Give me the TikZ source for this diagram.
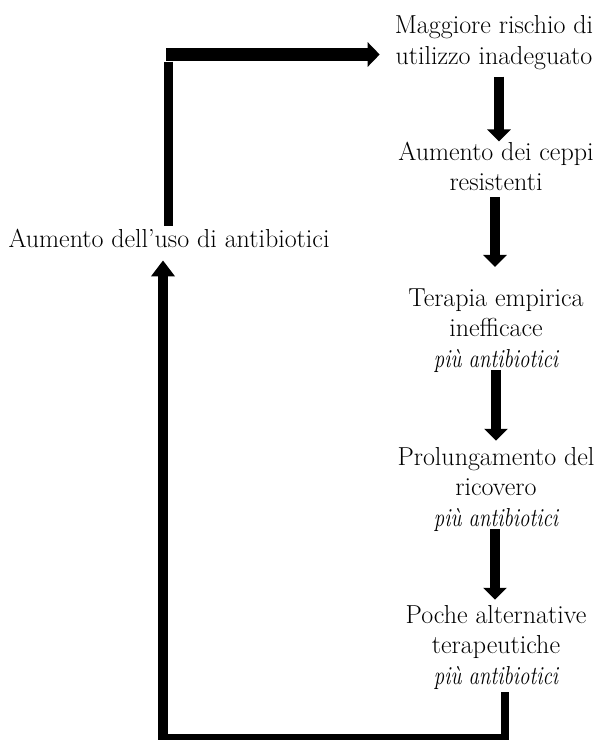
\documentclass[tikz,border=0pt]{standalone}
\usepackage{fontspec}
\usepackage{graphicx}
\usetikzlibrary{arrows.meta}
\newcommand{\piu}{\scalebox{0.8}[1]{\itshape più antibiotici}}
\begin{document}
\begin{tikzpicture}[x=1pt,y=-1pt,
  lbl/.style={inner sep=0pt, align=center, anchor=base, font=\fontsize{26}{30.5}\selectfont},
  arr/.style={line width=9.5pt, -{Triangle[width=23pt,length=12pt]}},
  thickbar/.style={line width=#1}]
\useasboundingbox (0,0) rectangle (596,740);
% texts (anchor = baseline of the last line)
\node[lbl] (n0) at (169,247) {Aumento dell’uso di antibiotici};
\node[lbl] (n1) at (494,64) {Maggiore rischio di\\utilizzo inadeguato};
\node[lbl] (n2) at (496,190.5) {Aumento dei ceppi\\resistenti};
\node[lbl] (n3) at (496,367) {Terapia empirica\\inefficace\\\piu};
\node[lbl] (n4) at (496,526) {Prolungamento del\\ricovero\\\piu};
\node[lbl] (n5) at (496,684) {Poche alternative\\terapeutiche\\\piu};
% corners
\coordinate (tlh) at (166,54.5);
\coordinate (tlv) at (168.5,61.5);
\coordinate (br) at (505,737.5);
\coordinate (bl) at (163,737.5);
\coordinate (bb) at (163,741);
% chain on the right
\draw[arr, shorten <=7pt, shorten >=0pt] ([xshift=5pt]n1.south) -- ([xshift=5pt]n1.south |- n2.north);
\draw[arr, shorten <=6.5pt, shorten >=21.2pt] ([xshift=-1pt]n2.south) -- ([xshift=-1pt]n3.north);
\draw[arr, shorten <=-2pt, shorten >=6pt] (n3.south) -- (n4.north);
\draw[arr, shorten <=-2pt, shorten >=5pt] ([xshift=-1pt]n4.south) -- ([xshift=-1pt]n5.north);
% loop back
\draw[thickbar=8pt, shorten <=3pt] (n5.south -| br) -- (br) -- (bl);
\draw[arr, line width=10pt, -{Triangle[width=23pt,length=16pt]}, shorten >=13pt] (bb) -- (bb |- n0.south);
\draw[thickbar=8.5pt, shorten >=2pt] (tlv) -- (tlv |- n0.north);
\draw[line width=13pt, -{Triangle[width=24pt,length=12pt]}, shorten >=15pt] (tlh) -- (tlh -| n1.west);
\end{tikzpicture}
\end{document}
